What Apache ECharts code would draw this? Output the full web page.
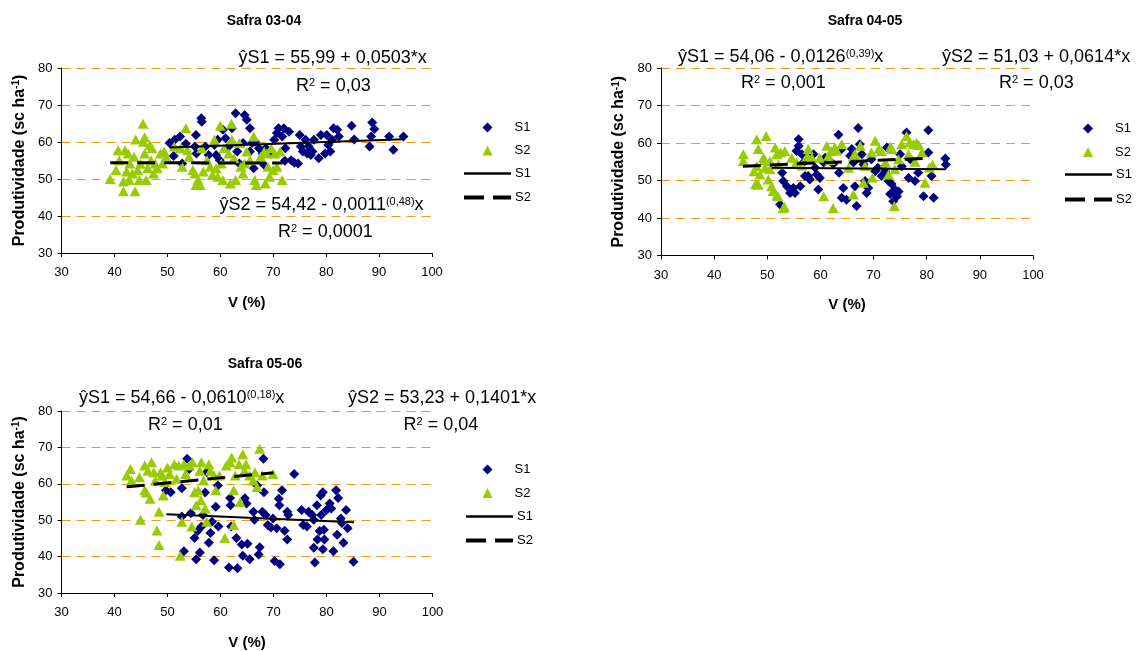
<!DOCTYPE html>
<html>
<head>
<meta charset="utf-8">
<script src="https://cdn.jsdelivr.net/npm/echarts@6/dist/echarts.min.js"></script>
<style>
html,body{margin:0;padding:0;background:#fff;}
#chart{width:1136px;height:651px;}
</style>
</head>
<body>
<div id="chart"></div>
<script>
// ---------- axis ranges / ticks ----------
const xMin = 30, xMax = 100, xStep = 10;
const yMin = 30, yMax = 80, yStep = 10;
const titles = ['Safra 03-04', 'Safra 04-05', 'Safra 05-06'];
const xName = 'V (%)';
const yName = 'Produtividade (sc ha{sup|-1})';
const legendNames = ['S1', 'S2'];

// ---------- Safra 03-04 ----------
const s1_0304 = [[50.4,59.7],[51.2,56.2],[51.4,60.6],[52.4,61.5],[52.8,54.2],[53.5,59.5],[55.2,58.8],[55.4,61.9],[55.5,56.9],[56.4,66.4],[56.5,65.5],[57.2,58.8],[57.8,56.5],[58.9,59.2],[59.2,56.5],[59.5,60.6],[59.9,55.1],[60.5,63.3],[61.0,61.0],[61.6,58.8],[62.2,63.7],[62.9,67.8],[63.2,57.4],[63.6,54.2],[64.3,59.7],[64.6,67.3],[65.0,66.0],[65.6,63.7],[65.6,57.4],[66.0,59.7],[66.3,52.9],[66.6,60.1],[67.3,58.3],[68.0,56.9],[68.3,53.8],[68.6,58.3],[69.6,57.4],[70.2,60.6],[70.7,62.4],[71.0,63.7],[71.7,61.5],[72.0,63.7],[72.2,54.9],[72.3,58.3],[73.0,62.8],[73.4,55.1],[74.0,54.4],[74.7,54.2],[75.0,61.9],[75.2,58.8],[75.6,57.4],[76.1,60.6],[76.4,56.9],[76.7,58.8],[77.1,56.5],[77.4,57.4],[77.7,60.6],[78.6,55.6],[79.0,61.9],[79.8,56.9],[80.1,61.9],[80.4,59.2],[80.8,57.4],[81.1,60.6],[81.4,63.7],[82.1,63.3],[82.4,61.5],[84.8,64.4],[85.3,60.7],[88.2,58.8],[88.5,61.5],[88.7,65.3],[89.1,63.5],[91.9,61.5],[92.7,57.9],[94.6,61.5]];
const s2_0304 = [[39.2,50.0],[40.3,52.4],[40.7,57.8],[40.9,55.1],[41.7,49.3],[41.7,46.7],[42.0,57.8],[42.3,52.0],[42.6,56.9],[42.8,49.7],[42.9,54.2],[43.4,51.5],[43.7,56.0],[43.9,46.7],[44.0,60.7],[44.4,52.4],[44.7,49.7],[44.9,54.1],[45.4,64.9],[45.5,60.1],[45.7,56.9],[45.7,61.3],[46.0,49.7],[46.3,52.9],[46.7,59.2],[46.9,55.1],[47.1,58.3],[47.4,51.5],[47.7,54.2],[48.1,52.9],[48.7,56.9],[49.1,54.2],[49.4,57.4],[49.8,56.0],[51.3,58.8],[52.5,58.3],[52.8,53.3],[53.5,63.7],[53.8,57.8],[54.1,56.0],[54.8,52.4],[55.2,51.5],[55.4,48.4],[55.8,49.7],[56.2,48.4],[56.5,58.3],[56.8,52.0],[57.5,55.1],[58.1,53.3],[58.5,51.1],[58.9,60.6],[59.2,52.9],[59.5,50.6],[60.0,64.4],[60.2,54.2],[60.5,49.7],[60.7,58.3],[61.6,56.9],[61.9,48.8],[62.1,64.9],[62.2,60.6],[62.6,55.6],[62.9,49.7],[63.6,59.7],[63.9,53.3],[64.3,51.5],[64.6,54.2],[65.0,57.4],[65.6,55.1],[66.3,61.5],[66.5,49.7],[66.8,48.4],[67.6,56.0],[68.3,57.4],[68.5,48.8],[68.8,56.9],[69.0,53.3],[69.3,50.6],[69.6,58.3],[70.0,52.4],[70.3,56.9],[70.7,53.3],[71.3,57.4],[71.7,49.7]];
const t1_0304 = [[50.4,58.53],[94.6,60.75]];
const t2_0304 = [[39.2,54.38],[71.8,54.34]];

// ---------- Safra 04-05 ----------
const s1_0405 = [[52.4,43.6],[53.0,49.9],[52.8,52.1],[53.7,48.5],[54.3,46.7],[54.9,48.0],[55.2,46.7],[55.5,57.9],[55.9,61.0],[55.9,59.2],[56.2,48.5],[56.5,57.0],[56.8,54.8],[57.1,51.2],[57.7,51.2],[58.0,50.3],[58.7,57.0],[59.0,53.4],[59.3,51.6],[59.6,47.6],[59.9,50.7],[60.6,54.8],[60.9,56.1],[62.4,54.4],[63.4,62.2],[63.5,52.1],[64.0,58.4],[64.3,48.0],[64.0,45.4],[64.9,44.9],[65.6,56.6],[65.9,58.4],[66.2,54.8],[66.5,48.5],[66.8,43.2],[67.1,64.0],[67.4,59.7],[67.8,57.0],[68.1,54.3],[68.4,49.9],[68.7,46.7],[69.0,48.0],[69.6,55.7],[70.3,52.5],[70.8,53.4],[71.5,51.2],[72.2,52.5],[72.5,58.8],[72.8,49.9],[73.1,46.4],[73.4,49.1],[73.7,44.5],[74.0,47.6],[74.4,45.8],[74.7,47.1],[75.0,57.0],[75.3,53.8],[76.2,62.8],[76.6,50.7],[76.9,55.7],[77.8,49.9],[78.4,52.1],[79.4,45.8],[80.3,63.4],[80.3,57.5],[80.9,51.2],[81.3,45.4],[83.5,55.9],[83.6,54.3]];
const s2_0405 = [[45.5,57.0],[45.5,55.2],[48.0,61.0],[48.3,58.4],[49.8,61.9],[48.0,53.9],[48.6,51.6],[48.3,48.9],[49.3,56.1],[49.6,53.4],[50.2,50.3],[50.5,55.2],[50.8,48.5],[51.1,47.2],[51.5,58.8],[51.8,57.0],[52.1,54.3],[52.0,45.8],[53.0,42.7],[53.3,57.9],[54.6,56.1],[55.5,54.8],[57.7,58.4],[58.4,56.1],[59.9,56.1],[60.6,45.8],[61.2,59.3],[61.5,56.6],[62.1,57.9],[62.4,42.7],[62.7,58.8],[64.0,59.7],[65.3,53.4],[66.2,46.3],[66.5,57.0],[67.5,59.3],[68.1,49.4],[68.4,53.9],[69.6,57.5],[70.3,60.6],[71.5,57.9],[72.2,54.8],[72.8,51.6],[73.4,58.4],[73.9,43.2],[74.7,55.7],[75.3,59.7],[76.2,61.9],[76.6,57.0],[77.5,59.7],[78.1,60.1],[79.1,57.5],[79.7,49.4],[81.1,54.3],[47.5,52.5],[47.8,49.0],[49.5,55.5],[50.5,53.0],[51.8,46.0],[52.5,57.5],[53.2,43.0],[56.5,54.0],[57.5,56.5],[61.8,55.5],[63.0,58.0],[66.2,56.5],[69.8,50.8],[71.0,58.5],[73.2,59.0],[74.0,53.0],[76.8,60.2],[77.8,55.0],[78.5,59.5],[80.5,53.5]];
const t1_0405 = [[50.8,53.42],[83.6,53.01]];
const t2_0405 = [[45.4,53.82],[79.8,55.93]];

// ---------- Safra 05-06 ----------
const s1_0506 = [[49.7,58.2],[50.6,57.7],[52.7,58.8],[52.7,51.0],[53.1,41.5],[53.7,66.9],[54.1,64.1],[54.4,51.9],[55.1,45.1],[55.4,39.3],[55.7,47.0],[56.1,41.1],[56.4,48.3],[56.7,51.4],[57.1,57.6],[57.4,63.2],[57.8,43.8],[58.1,46.5],[58.4,49.6],[58.8,39.0],[59.1,53.7],[59.5,59.5],[59.6,48.3],[61.6,37.0],[61.8,56.1],[61.9,54.1],[62.0,48.3],[63.0,45.1],[63.2,36.8],[64.0,43.3],[64.2,40.2],[64.6,56.0],[64.9,54.6],[65.1,43.5],[65.5,39.3],[66.2,52.3],[66.4,50.1],[66.9,59.5],[67.2,40.6],[67.4,42.6],[67.9,52.3],[68.1,66.9],[68.2,57.7],[68.5,51.4],[68.9,48.7],[69.5,48.0],[69.9,50.5],[70.2,38.8],[70.6,47.8],[71.0,55.9],[71.1,54.1],[71.2,37.9],[71.6,58.2],[72.1,47.1],[72.6,52.3],[72.8,51.4],[72.6,44.7],[73.9,62.7],[75.3,52.8],[75.6,48.7],[76.3,48.3],[76.6,52.3],[77.3,51.4],[77.6,50.1],[77.6,42.4],[77.8,38.4],[78.2,54.1],[78.3,44.7],[78.7,47.0],[78.9,56.8],[79.0,51.4],[79.3,42.0],[79.3,57.7],[79.5,47.4],[79.6,44.7],[80.0,52.8],[80.6,54.6],[80.9,53.2],[81.3,41.5],[81.8,58.2],[82.0,46.0],[82.2,56.1],[82.7,50.5],[82.9,49.2],[83.2,43.8],[83.7,52.8],[84.0,47.8],[85.1,38.6]];
const s2_0506 = [[42.3,62.3],[43.0,64.1],[43.2,60.9],[44.7,61.8],[44.9,50.1],[45.7,65.0],[45.7,58.2],[46.0,57.6],[46.3,63.6],[46.7,55.9],[47.0,65.9],[47.4,63.2],[47.7,60.9],[48.0,47.2],[48.4,52.3],[48.4,43.2],[48.7,63.2],[49.0,62.3],[49.2,56.8],[49.5,60.5],[50.0,64.5],[50.4,62.7],[51.3,65.4],[51.7,61.4],[52.1,65.0],[52.4,40.2],[52.7,49.6],[53.1,65.4],[53.4,62.7],[54.1,65.0],[54.6,48.3],[54.7,65.9],[55.1,57.7],[55.4,54.1],[55.8,58.2],[56.1,63.6],[56.3,55.5],[56.4,65.9],[56.8,60.9],[57.1,53.2],[57.4,49.6],[57.8,65.4],[58.1,63.6],[58.8,62.3],[59.1,58.2],[59.8,62.3],[60.8,45.1],[61.1,65.0],[61.8,65.9],[62.1,67.2],[62.5,58.2],[62.5,48.7],[62.8,62.3],[63.5,65.4],[63.7,55.0],[64.2,68.1],[64.5,63.6],[64.8,65.4],[65.5,62.3],[66.2,60.9],[66.5,63.2],[66.9,59.1],[67.4,69.6],[67.9,62.3],[69.9,62.7]];
const t1_0506 = [[49.8,51.62],[85.2,49.46]];
const t2_0506 = [[42.3,59.16],[70.0,63.04]];

// ---------- equation labels ----------
const eqs = [
  ['ŷS1 = 55,99 + 0,0503*x', 'R{sup|2} = 0,03', 'ŷS2 = 54,42 - 0,0011{sup|(0,48)}x', 'R{sup|2} = 0,0001'],
  ['ŷS1 = 54,06 - 0,0126{sup|(0,39)}x', 'R{sup|2} = 0,001', 'ŷS2 = 51,03 + 0,0614*x', 'R{sup|2} = 0,03'],
  ['ŷS1 = 54,66 - 0,0610{sup|(0,18)}x', 'R{sup|2} = 0,01', 'ŷS2 = 53,23 + 0,1401*x', 'R{sup|2} = 0,04']
];

// ---------- layout ----------
const FONT = 'Liberation Sans, Arial, sans-serif';
const grids = [
  {left: 61.5, top: 68, width: 370.5, height: 185},
  {left: 661, top: 68, width: 372, height: 187.5},
  {left: 61.5, top: 411, width: 371, height: 185}
];
const titlePos = [[264, 14], [865, 14], [265, 357]];
// [scatter legend left, top, scatter gap, line legend left, top, line gap]
const legendPos = [[482.5, 121, 10, 464, 167, 11], [1083, 122, 10.5, 1065, 168, 12], [482.5, 463, 10.5, 466, 510, 11]];
const eqPos = [
  [[238.6, 58], [296, 86], [219.6, 205], [278, 232]],
  [[678, 57], [741, 83], [942, 57], [999, 83]],
  [[79, 398], [148, 425], [348, 398], [403.6, 425]]
];

const scatterSets = [[s1_0304, s2_0304, t1_0304, t2_0304],
                     [s1_0405, s2_0405, t1_0405, t2_0405],
                     [s1_0506, s2_0506, t1_0506, t2_0506]];

const NAVY = '#000080', GREEN = '#99CC00';
const SOLID_ICON = 'path://M0,0H47V2.4H0Z';
const DASH_ICON = 'path://M0,0H20V4H0Z M29,0H47V4H29Z';
const xAxes = [], yAxes = [], series = [], legends = [], titleArr = [], graphics = [];

for (let i = 0; i < 3; i++) {
  xAxes.push({
    gridIndex: i, type: 'value', min: xMin, max: xMax, interval: xStep,
    name: xName, nameLocation: 'middle', nameGap: 42,
    nameTextStyle: {fontSize: 15, fontWeight: 'bold', color: '#000', fontFamily: FONT},
    axisLine: {show: true, onZero: false, lineStyle: {color: '#000', width: 1}},
    axisTick: {show: true, length: 4, lineStyle: {color: '#000'}},
    axisLabel: {fontSize: 13, color: '#000', margin: 13, fontFamily: FONT},
    splitLine: {show: false}
  });
  yAxes.push({
    gridIndex: i, type: 'value', min: yMin, max: yMax, interval: yStep,
    name: yName, nameLocation: 'middle', nameGap: 34, nameRotate: 90,
    nameTextStyle: {fontSize: 16, fontWeight: 'bold', color: '#000', fontFamily: FONT,
      rich: {sup: {fontSize: 10, fontWeight: 'bold', color: '#000', fontFamily: FONT, verticalAlign: 'top'}}},
    axisLine: {show: true, onZero: false, lineStyle: {color: '#000', width: 1}},
    axisTick: {show: true, length: 4, lineStyle: {color: '#000'}},
    axisLabel: {fontSize: 13, color: '#000', margin: 9, fontFamily: FONT},
    splitLine: {show: true, lineStyle: {color: '#F29A12', type: [9, 6], width: 1}}
  });
  const [a, b, c, d] = scatterSets[i];
  series.push(
    {name: 'S1', type: 'scatter', xAxisIndex: i, yAxisIndex: i, data: a, symbol: 'diamond', symbolSize: 10,
     itemStyle: {color: NAVY, opacity: 1}, z: 2},
    {name: 'S2', type: 'scatter', xAxisIndex: i, yAxisIndex: i, data: b, symbol: 'triangle', symbolSize: [11, 10],
     itemStyle: {color: GREEN, opacity: 1}, z: 3},
    {name: 'S1 linha', type: 'line', xAxisIndex: i, yAxisIndex: i, data: c, symbol: 'none', showSymbol: false,
     lineStyle: {color: '#000', width: 2}, itemStyle: {color: '#000'}, z: 5},
    {name: 'S2 linha', type: 'line', xAxisIndex: i, yAxisIndex: i, data: d, symbol: 'none', showSymbol: false,
     lineStyle: {color: '#000', width: 3, type: [18, 9]}, itemStyle: {color: '#000'}, z: 5}
  );
  const lp = legendPos[i];
  legends.push({
    orient: 'vertical', left: lp[0], top: lp[1],
    itemWidth: 10, itemHeight: 10, itemGap: lp[2], padding: 0,
    data: legendNames,
    itemStyle: {opacity: 1},
    textStyle: {fontSize: 13, color: '#000', fontFamily: FONT, padding: [0, 0, 0, 17]},
    selectedMode: false
  });
  legends.push({
    orient: 'vertical', left: lp[3], top: lp[4],
    itemWidth: 47, itemHeight: 10, itemGap: lp[5], padding: 0,
    data: [{name: 'S1 linha', icon: SOLID_ICON}, {name: 'S2 linha', icon: DASH_ICON}],
    formatter: n => n.slice(0, 2),
    itemStyle: {color: '#000', borderWidth: 0},
    textStyle: {fontSize: 13, color: '#000', fontFamily: FONT, padding: [0, 0, 0, -1]},
    selectedMode: false
  });
  titleArr.push({
    text: titles[i], left: titlePos[i][0], top: titlePos[i][1], textAlign: 'center', padding: 0,
    textStyle: {fontSize: 14, fontWeight: 'bold', color: '#000', fontFamily: FONT}
  });
  eqs[i].forEach((t, k) => {
    graphics.push({
      type: 'text', x: eqPos[i][k][0], y: eqPos[i][k][1], z: 10,
      style: {
        text: t, fill: '#000', fontSize: 18, fontFamily: FONT, align: 'left', verticalAlign: 'middle',
        rich: {sup: {fontSize: 11, fontFamily: FONT, fill: '#000', verticalAlign: 'top'}}
      }
    });
  });
}

const chart = echarts.init(document.getElementById('chart'), null, {renderer: 'canvas'});
chart.setOption({
  animation: false,
  backgroundColor: '#fff',
  textStyle: {fontFamily: FONT},
  title: titleArr,
  legend: legends,
  grid: grids,
  xAxis: xAxes,
  yAxis: yAxes,
  series: series,
  graphic: graphics
});
</script>
</body>
</html>
